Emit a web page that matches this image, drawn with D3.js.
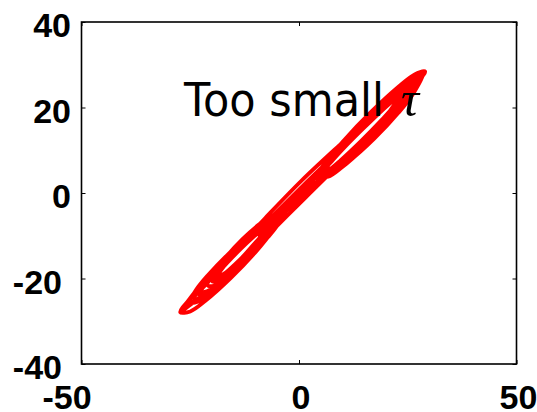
<!DOCTYPE html>
<html>
<head>
<meta charset="utf-8">
<script src="https://cdn.jsdelivr.net/npm/d3@7/dist/d3.min.js"></script>
<style>
  html, body { margin: 0; padding: 0; background: #fff; }
  svg { display: block; }
</style>
</head>
<body>
<svg id="chart" width="537" height="412"></svg>
<script>
// Delay-coordinate reconstruction x(t) vs x(t + tau) of a Lorenz trajectory.
const xTicks = [-50, 0, 50];
const yTicks = [-40, -20, 0, 20, 40];
const xDomain = [-50, 50];
const yDomain = [-40, 40];
const titleText = "Too small";
const tauText = "\u03C4";

// Trajectory, in time order, split into its successive passages.
const startPoint = [[-5, -5.6]];
const lowerLobeA = [
  [-6.5, -7.9], [-8.75, -10.6], [-12.5, -14.5], [-16.25, -18.1], [-18.5, -19.9], [-20, -20.6],
  [-18.7, -18.8], [-16.75, -16.6], [-13.5, -13.2], [-10.25, -10.1], [-8.3, -8.4], [-7, -7.6],
  [-8.55, -10.5], [-10.9, -13.4], [-14.75, -17.55], [-18.6, -21.1], [-21.0, -22.9], [-22.5, -23.1],
  [-20.9, -20.5], [-18.4, -17.6], [-14.3, -13.3], [-10.1, -9.3], [-7.7, -7.3], [-6, -6.6],
  [-7.9, -10.2], [-10.8, -13.9], [-15.5, -19.0], [-20.3, -23.4], [-23.1, -25.4], [-25, -25.6],
  [-22.9, -22.1], [-19.8, -18.4], [-14.5, -12.8], [-9.3, -7.9], [-6.1, -5.3], [-4, -4.6],
  [-6.3, -9.1], [-9.8, -13.6], [-15.7, -19.9], [-21.5, -25.2], [-25.0, -27.7], [-27.3, -27.9]
];
const transitionUp1 = [
  [-24.5, -24.1], [-21.7, -21.0], [-16.1, -14.9], [-7.8, -5.9], [0.6, 2.9],
  [9.0, 10.9], [17.3, 18.5], [22.9, 23.6], [25.7, 26.1], [28.6, 28.1]
];
const upperLobeA = [
  [26.3, 23.3], [22.9, 18.8], [17.3, 12.7], [11.6, 7.5], [8.3, 5.3], [6, 5.4],
  [7.8, 7.7], [10.4, 10.6], [14.8, 15.1], [19.1, 19.3], [21.8, 21.7], [23.5, 22.9],
  [21.7, 20.2], [18.9, 17.0], [14.3, 12.2], [9.6, 7.7], [6.9, 5.4], [5, 4.4],
  [7.2, 7.7], [10.4, 11.4], [15.8, 17.0], [21.1, 22.1], [24.4, 24.9], [26.5, 25.9],
  [24.3, 22.1], [20.9, 18.0], [15.3, 12.1], [9.6, 6.7], [6.3, 4.1], [4, 3.4],
  [6.5, 7.7], [10.3, 12.3], [16.5, 18.9], [22.8, 24.8], [26.5, 27.7], [29, 28.4]
];
const transitionDown1 = [
  [26.3, 24.8], [23.5, 21.2], [18, 15.1], [9.8, 7.2], [1.5, -1.1],
  [-6.8, -9.5], [-15, -17.9], [-20.5, -22.8], [-23.3, -24.8], [-26, -26.6]
];
const lowerLobeB = [
  [-24.2, -23.7], [-21.5, -20.4], [-17, -15.7], [-12.5, -11.4], [-9.8, -9.3], [-8, -8.6],
  [-9.1, -10.6], [-10.6, -12.6], [-13.3, -15.5], [-15.9, -17.9], [-17.5, -19.0], [-18.5, -19.1],
  [-17.3, -17.2], [-15.5, -15.1], [-12.5, -11.9], [-9.5, -9.1], [-7.7, -7.6], [-6.5, -7.1],
  [-8.0, -10.1], [-10.1, -12.9], [-13.8, -16.9], [-17.4, -20.2], [-19.6, -21.7], [-21, -21.6],
  [-19.4, -18.3], [-17, -15.2], [-13, -10.8], [-9, -7.2], [-6.6, -5.5], [-5, -5.6],
  [-6.9, -9.5], [-9.8, -13.2], [-14.5, -18.4], [-16.0, -20.0], [-19.3, -22.7], [-22.1, -24.7], [-24, -24.6]
];
const transitionUp2 = [
  [-21.4, -21.4], [-18.9, -18.7], [-13.7, -13.2], [-6.0, -5.3], [1.8, 2.6],
  [9.5, 10.2], [17.2, 17.7], [22.4, 22.6], [24.9, 24.9], [27.5, 26.9]
];
const upperLobeB = [
  [25.3, 22.7], [22, 18.4], [16.5, 12.5], [11, 7.4], [7.7, 5.1], [5.5, 4.9],
  [7.2, 7.4], [9.8, 10.3], [14, 14.7], [18.3, 18.8], [20.8, 21.0], [22.5, 21.9],
  [20.6, 18.8], [17.6, 15.3], [12.8, 10.2], [7.9, 5.6], [5.0, 3.2], [3, 2.4],
  [5.3, 6.1], [8.6, 10.1], [14.3, 16.1], [19.9, 21.4], [23.3, 24.1], [25.5, 24.9]
];
const transitionDown2 = [
  [22.9, 21.6], [20.3, 18.3], [15, 12.7], [7.1, 5.2], [-0.8, -1.6],
  [-8.6, -10.0], [-16.5, -18.8], [-21.8, -23.8], [-24.4, -25.7], [-27, -27.6]
];
const lowerLobeC = [
  [-24.6, -24.0], [-21, -19.9], [-15, -13.6], [-9, -7.9], [-5.4, -4.8], [-3, -3.6],
  [-4.6, -7.0], [-7, -10.2], [-11, -14.6], [-15, -18.2], [-17.4, -19.8], [-19, -19.6],
  [-18, -17.8], [-16.5, -15.9], [-14, -13.2], [-11.5, -10.9], [-10, -9.8], [-9, -9.6],
  [-10.4, -13.0], [-12.5, -16.0], [-16, -19.9], [-19.5, -23.0], [-21.6, -24.2], [-23, -23.6]
];
const transitionUp3 = [
  [-20.6, -20.1], [-18.1, -17.1], [-13.2, -12.1], [-5.9, -6.2], [1.5, 1.4],
  [8.9, 9.5], [16.2, 17.2], [21.1, 21.9], [23.6, 23.8], [26, 25.4]
];
const upperLobeC = [
  [23.9, 21.0], [20.6, 16.7], [15.3, 10.9], [9.9, 6.0], [6.7, 3.8], [4.5, 3.9],
  [6.5, 7.2], [9.5, 10.7], [14.5, 16.0], [19.5, 20.7], [22.5, 23.2], [24.5, 23.9],
  [22.7, 20.4], [20, 16.9], [15.5, 12.0], [11, 7.9], [8.3, 6.0], [6.5, 5.9],
  [8.6, 9.6], [11.8, 13.6], [17.2, 19.3], [22.5, 24.2], [25.7, 26.7], [27.8, 27.2]
];
const transitionDown3 = [
  [25.1, 23.5], [22.5, 20.2], [17.1, 14.4], [9.1, 6.6], [1.2, -0.3],
  [-6.8, -8.3], [-14.8, -17.4], [-20.2, -22.4], [-22.8, -24.4], [-25.5, -26.1]
];
const lowerLobeD = [
  [-23.7, -22.7], [-21, -19.3], [-16.5, -14.5], [-12, -10.3], [-9.3, -8.3], [-7.5, -8.1],
  [-8.8, -10.6], [-10.6, -12.9], [-13.8, -16.4], [-16.9, -19.2], [-18.8, -20.6], [-20, -20.6],
  [-18.6, -18.6], [-16.5, -16.2], [-13, -12.6], [-9.5, -9.2], [-7.4, -7.4], [-6, -6.6]
];

const trajectory = [].concat(
  startPoint, lowerLobeA, transitionUp1, upperLobeA, transitionDown1,
  lowerLobeB, transitionUp2, upperLobeB, transitionDown2, lowerLobeC,
  transitionUp3, upperLobeC, transitionDown3, lowerLobeD
);

const plot = { left: 81.5, right: 516.5, top: 22, bottom: 364 };
const svg = d3.select("#chart");

const x = d3.scaleLinear().domain(xDomain).range([plot.left, plot.right]);
const y = d3.scaleLinear().domain(yDomain).range([plot.bottom, plot.top]);

const tickFont = "'Liberation Sans', Arial, sans-serif";
const plainNumber = d => String(d);

// Curve
const line = d3.line()
  .x(d => x(d[0]))
  .y(d => y(d[1]))
  .curve(d3.curveCatmullRom.alpha(0.5));

svg.append("path")
  .datum(trajectory)
  .attr("d", line)
  .attr("fill", "none")
  .attr("stroke", "#ff0000")
  .attr("stroke-width", 3.8)
  .attr("stroke-linejoin", "round")
  .attr("stroke-linecap", "round");

// Frame
svg.append("rect")
  .attr("x", plot.left).attr("y", plot.top)
  .attr("width", plot.right - plot.left)
  .attr("height", plot.bottom - plot.top)
  .attr("fill", "none")
  .attr("stroke", "#000")
  .attr("stroke-width", 1.6);

// Axes with inward ticks
const styleAxis = g => {
  g.select(".domain").remove();
  g.selectAll(".tick line").attr("stroke", "#000").attr("stroke-width", 1);
  g.selectAll("text")
    .attr("fill", "#000")
    .style("font-family", tickFont)
    .style("font-weight", "bold")
    .style("font-size", "34px");
};

svg.append("g")
  .attr("transform", `translate(0,${plot.bottom})`)
  .call(d3.axisBottom(x).tickValues(xTicks).tickSizeInner(-4).tickSizeOuter(0).tickPadding(21).tickFormat(plainNumber))
  .call(styleAxis)
  .call(g => g.selectAll("text").attr("dx", d => d < 0 ? -15 : 1.5));

svg.append("g")
  .attr("transform", `translate(${plot.left},0)`)
  .call(d3.axisLeft(y).tickValues(yTicks).tickSizeInner(-4).tickSizeOuter(0).tickPadding(10.5).tickFormat(plainNumber))
  .call(styleAxis)
  .call(g => g.selectAll("text").attr("dy", "0.44em").attr("dx", d => d < 0 ? -9 : 0));

svg.append("g")
  .attr("transform", `translate(0,${plot.top})`)
  .call(d3.axisTop(x).tickValues(xTicks).tickSizeInner(-4).tickSizeOuter(0).tickFormat(""))
  .call(styleAxis);

svg.append("g")
  .attr("transform", `translate(${plot.right},0)`)
  .call(d3.axisRight(y).tickValues(yTicks).tickSizeInner(-4).tickSizeOuter(0).tickFormat(""))
  .call(styleAxis);

// Annotation
svg.append("text")
  .attr("x", 184)
  .attr("y", 116)
  .attr("textLength", 200)
  .attr("lengthAdjust", "spacingAndGlyphs")
  .style("font-family", "'DejaVu Sans', Verdana, sans-serif")
  .style("font-size", "46px")
  .attr("fill", "#000")
  .text(titleText);

svg.append("text")
  .attr("x", 401)
  .attr("y", 116)
  .style("font-family", "'Liberation Serif', 'Times New Roman', serif")
  .style("font-style", "italic")
  .style("font-size", "50px")
  .attr("fill", "#000")
  .text(tauText);
</script>
</body>
</html>
